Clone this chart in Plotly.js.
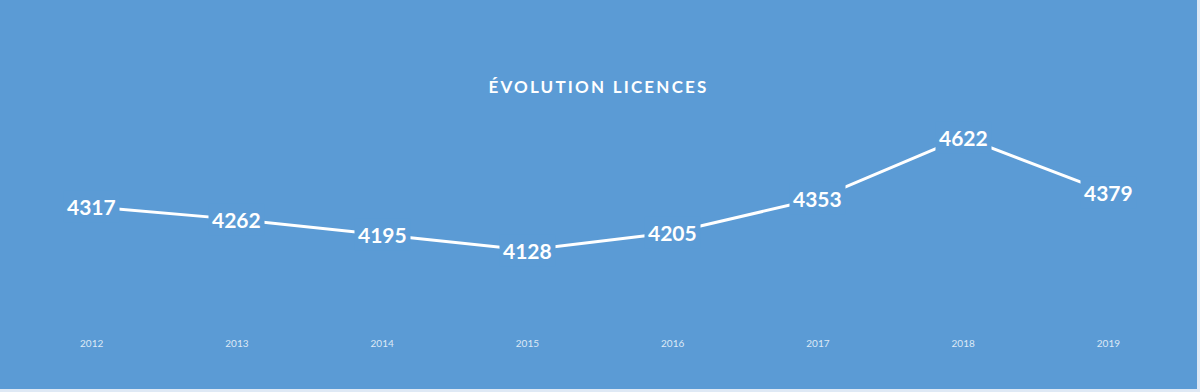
<!DOCTYPE html>
<html>
<head>
<meta charset="utf-8">
<script src="https://cdn.plot.ly/plotly-3.0.1.min.js"></script>
<style>
html,body{margin:0;padding:0;background:#dfe9f5;overflow:hidden;}
#chart{width:1197px;height:389px;}
.gtitle{letter-spacing:2.2px;}
</style>
</head>
<body>
<div id="chart"></div>
<script>
const years = ['2012','2013','2014','2015','2016','2017','2018','2019'];
const licences = [4317, 4262, 4195, 4128, 4205, 4353, 4622, 4379];
const titleText = 'ÉVOLUTION LICENCES';

const bg = '#5B9BD5';

const annotations = years.map((y, i) => ({
  x: i, y: licences[i], xref: 'x', yref: 'y',
  text: '<b>' + licences[i] + '</b>', showarrow: false,
  font: {family: 'Lato, "Open Sans", sans-serif', size: 21, color: '#ffffff'},
  bgcolor: bg, borderpad: 3
}));

const trace = {
  x: years, y: licences, type: 'scatter', mode: 'lines',
  line: {color: '#ffffff', width: 3},
  hoverinfo: 'skip'
};

const layout = {
  width: 1197, height: 389,
  paper_bgcolor: bg, plot_bgcolor: bg,
  margin: {l: 19, r: 16, t: 100, b: 57},
  showlegend: false,
  title: {
    text: '<b>' + titleText + '</b>',
    x: 0.5, xanchor: 'center', y: 1 - 87/389, yanchor: 'middle',
    font: {family: 'Lato, "Open Sans", sans-serif', size: 17, color: '#ffffff'}
  },
  xaxis: {
    type: 'category', showgrid: false, zeroline: false, showline: false,
    ticks: '', ticklabelstandoff: 4,
    tickfont: {family: 'Lato, "Open Sans", sans-serif', size: 10, color: '#dde9f6'},
    range: [-0.5, 7.5], fixedrange: true
  },
  yaxis: {
    visible: false, range: [3769.5, 4784], fixedrange: true
  },
  annotations: annotations
};

Plotly.newPlot('chart', [trace], layout, {displayModeBar: false, staticPlot: true});
</script>
</body>
</html>
